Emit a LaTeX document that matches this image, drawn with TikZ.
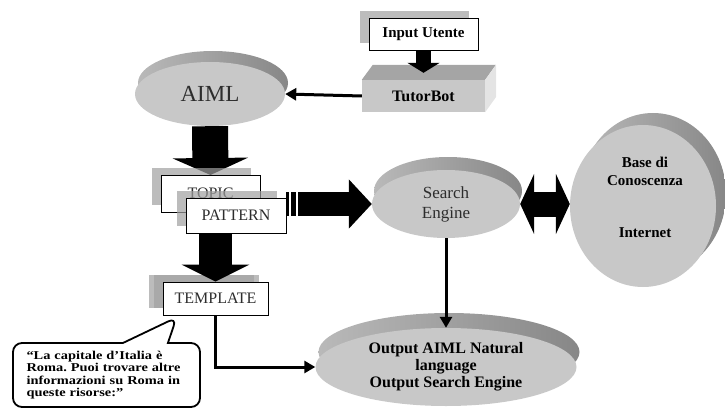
\documentclass[tikz,border=0pt]{standalone}
\usepackage{fontspec}
\setmainfont{Liberation Serif}
\newfontfamily\notefont[FakeStretch=1.2]{Liberation Serif}
\usetikzlibrary{arrows.meta, shapes.geometric, shapes.callouts, shadows, calc, positioning}
\definecolor{DiscFace}{RGB}{200,200,200}
\definecolor{RimLight}{RGB}{185,185,185}
\definecolor{RimDark}{RGB}{135,135,135}
\definecolor{BoxShadow}{RGB}{160,160,160}
\definecolor{BotTop}{RGB}{165,165,165}
\definecolor{BotSide}{RGB}{228,228,228}
\definecolor{TextGrey}{RGB}{45,45,45}
\frenchspacing

\begin{document}
\begin{tikzpicture}[x=1pt, y=-1pt,
  disc/.style={ellipse, fill=DiscFace, inner sep=0pt, text=TextGrey, align=center},
  rim/.style 2 args={general shadow={shadow xshift=#1, shadow yshift=#2, left color=RimLight, right color=RimDark}},
  labelbox/.style={draw, thick, fill=white, inner sep=0pt, text=TextGrey, font=\fontsize{16}{18}\selectfont,
    general shadow={fill=BoxShadow, opacity=0.7, shadow xshift=-9pt, shadow yshift=7pt}},
  thinarrow/.style={line width=3pt, -{Triangle[length=11pt, width=12pt]}}
]
\useasboundingbox (0,0) rectangle (725,409);

% user input and bot
\node[labelbox, minimum width=109, minimum height=32, text=black, font=\bfseries\fontsize{15}{17}\selectfont] (input) at (423.5,34) {Input Utente};
\node[fill=DiscFace, minimum width=123, minimum height=32, inner sep=0pt, font=\bfseries\fontsize{16}{18}\selectfont] (tutor) at (423.5,96) {TutorBot};
\fill[BotTop] (tutor.north west) -- ++(11,-15) -- ++(123,0) -- (tutor.north east) -- cycle;
\fill[BotSide] (tutor.north east) -- ++(11,-15) -- ++(0,32) -- (tutor.south east) -- cycle;
\draw[line width=15pt, -{Triangle[length=10pt, width=32pt]}] (input.south) -- ($(tutor.north)+(0,-7)$);

% discs
\node[disc, rim={3pt}{11pt}, minimum width=150, minimum height=64, font=\fontsize{23}{26}\selectfont] (aiml) at (210,94) {AIML};
\node[disc, rim={2pt}{13pt}, minimum width=148, minimum height=68, font=\fontsize{17}{20}\selectfont] (search) at (446,204) {Search\\Engine};
\node[disc, rim={10pt}{12pt}, minimum width=146, minimum height=162] (base) at (643,206) {};
\node[font=\bfseries\fontsize{15}{18}\selectfont, align=center] (baseText) at (645,197) {Base di\\Conoscenza\\[34pt]Internet};
\node[disc, rim={3pt}{15pt}, minimum width=261, minimum height=78, text=black, font=\bfseries\fontsize{16}{17}\selectfont] (output) at (446,367) {Output AIML Natural\\language\\Output Search Engine};

% AIML categories
\draw[line width=36pt, -{Triangle[length=17pt, width=75pt]}] (aiml.south) -- (210.5,175);
\node[labelbox, minimum width=99, minimum height=37] (topic) at (210.5,193.5) {TOPIC};
\node[labelbox, minimum width=100, minimum height=35] (pattern) at (236,215.5) {PATTERN};
\node[labelbox, minimum width=105, minimum height=33, general shadow={fill=BoxShadow, opacity=0.7, shadow xshift=-14pt, shadow yshift=7pt}] (tmpl) at (215.5,298.5) {TEMPLATE};
\draw[line width=33pt, -{Triangle[length=17pt, width=67pt]}] (tmpl.north |- pattern.south) -- (tmpl.north);

% block arrows to the search engine
\draw[line width=24pt, dash pattern=on 3pt off 2pt on 5pt off 2pt] (pattern.east |- search.west) -- ++(12,0) coordinate (stripeEnd);
\draw[line width=24pt, -{Triangle[length=23pt, width=48pt]}] (stripeEnd) -- (search.west);
\draw[line width=25pt, {Triangle[length=14pt, width=60pt]}-{Triangle[length=14pt, width=60pt]}] (search.east) -- (search.east -| base.west);

% thin connectors
\draw[thinarrow] (tutor.west) -- (aiml.east);
\draw[thinarrow] (search.south) -- (output.north);
\draw[thinarrow] (tmpl.south) |- (output.west);

% example answer
\coordinate (noteTip) at ($(tmpl.south west)+(14,2)$);
\node[rectangle callout, draw, line width=1.8pt, rounded corners=9pt, fill=white, callout absolute pointer=(noteTip), callout pointer width=45pt,
  minimum width=187, minimum height=64, inner sep=0pt, text width=160, align=left,
  font=\notefont\bfseries\fontsize{12}{12.3}\selectfont] (note) at (106.5,375)
  {“La capitale d’Italia è\\Roma. Puoi trovare altre\\informazioni su Roma in\\queste risorse:”};
\end{tikzpicture}
\end{document}
